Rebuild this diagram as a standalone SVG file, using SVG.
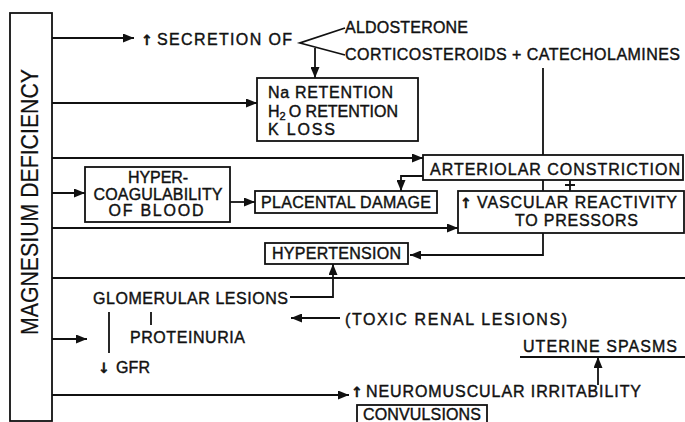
<svg xmlns="http://www.w3.org/2000/svg" width="685" height="422" viewBox="0 0 685 422">
<style>
text{font-family:"Liberation Sans","Arial",sans-serif;font-size:16px;fill:#111;stroke:#111;stroke-width:0.4}
.c{stroke:#111;stroke-width:1.8;fill:none}
.b{fill:#fff;stroke:#111;stroke-width:1.8}
.m{text-anchor:middle}
.ar{font-family:"DejaVu Sans",sans-serif;font-size:14px;font-weight:bold}
</style>
<defs>
<marker id="ah" markerUnits="userSpaceOnUse" markerWidth="11" markerHeight="9" refX="11" refY="4.5" orient="auto">
<path d="M0,0 L11,4.5 L0,9 z" fill="#111"/>
</marker>
</defs>
<rect width="685" height="422" fill="#fff"/>
<g id="connectors">
<path class="c" d="M52,38 H134" marker-end="url(#ah)"/>
<path class="c" d="M52,103 H257" marker-end="url(#ah)"/>
<path class="c" d="M52,158 H423" marker-end="url(#ah)"/>
<path class="c" d="M52,193 H85" marker-end="url(#ah)"/>
<path class="c" d="M52,228 H458" marker-end="url(#ah)"/>
<path class="c" d="M52,278 H685"/>
<path class="c" d="M52,339 H87" marker-end="url(#ah)"/>
<path class="c" d="M52,395 H349" marker-end="url(#ah)"/>
<path class="c" d="M345,28 L300,43 L345,55"/>
<path class="c" d="M315,48 V78" marker-end="url(#ah)"/>
<path class="c" d="M543,68 V255 H410" marker-end="url(#ah)"/>
<path class="c" d="M423,176 H401 V191" marker-end="url(#ah)"/>
<path class="c" d="M230,202 H255" marker-end="url(#ah)"/>
<path class="c" d="M290,297 H333 V264" marker-end="url(#ah)"/>
<path class="c" d="M340,318 H291" marker-end="url(#ah)"/>
<path class="c" d="M598,385 V357" marker-end="url(#ah)"/>
<path class="c" d="M520,357 H685"/>
<path class="c" d="M109,312 V353"/>
<path class="c" d="M151,312 V325"/>
<path class="c" d="M570,180 V191 M565,185 H575"/>
</g>
<g id="magnesium-deficiency">
<rect class="b" x="10" y="13" width="42" height="408"/>
<text transform="translate(38,335) rotate(-90)" style="font-size:23px;stroke-width:0.2" textLength="266" lengthAdjust="spacingAndGlyphs">MAGNESIUM DEFICIENCY</text>
</g>
<g id="secretion">
<text class="ar" x="141" y="45">↑</text>
<text x="157" y="45" textLength="135" lengthAdjust="spacing">SECRETION OF</text>
</g>
<g id="aldosterone">
<text x="345" y="33" textLength="123" lengthAdjust="spacing">ALDOSTERONE</text>
</g>
<g id="corticosteroids">
<text x="345" y="60" textLength="335" lengthAdjust="spacing">CORTICOSTEROIDS + CATECHOLAMINES</text>
</g>
<g id="retention">
<rect class="b" x="257" y="78" width="161" height="63"/>
<text x="268" y="98" textLength="125" lengthAdjust="spacing">Na RETENTION</text>
<text x="268" y="117">H<tspan style="font-size:11px" dy="3">2</tspan><tspan dy="-3" dx="3">O RETENTION</tspan></text>
<text x="268" y="135" textLength="67" lengthAdjust="spacing">K LOSS</text>
</g>
<g id="arteriolar">
<rect class="b" x="423" y="155" width="260" height="25"/>
<text x="430" y="175" textLength="250" lengthAdjust="spacing">ARTERIOLAR CONSTRICTION</text>
</g>
<g id="hypercoagulability">
<rect class="b" x="85" y="167" width="145" height="55"/>
<text class="m" x="158" y="183" textLength="60" lengthAdjust="spacing">HYPER-</text>
<text class="m" x="158" y="200" textLength="129" lengthAdjust="spacing">COAGULABILITY</text>
<text class="m" x="156" y="216" textLength="95" lengthAdjust="spacing">OF BLOOD</text>
</g>
<g id="placental">
<rect class="b" x="255" y="191" width="182" height="22"/>
<text x="261" y="208" textLength="170" lengthAdjust="spacing">PLACENTAL DAMAGE</text>
</g>
<g id="vascular">
<rect class="b" x="458" y="191" width="226" height="42"/>
<text class="ar" x="460" y="208">↑</text>
<text x="477" y="208" textLength="200" lengthAdjust="spacing">VASCULAR REACTIVITY</text>
<text x="515" y="226" textLength="123" lengthAdjust="spacing">TO PRESSORS</text>
</g>
<g id="hypertension">
<rect class="b" x="265" y="243" width="143" height="21"/>
<text x="272" y="259" textLength="129" lengthAdjust="spacing">HYPERTENSION</text>
</g>
<g id="glomerular">
<text x="93" y="304" textLength="195" lengthAdjust="spacing">GLOMERULAR LESIONS</text>
</g>
<g id="proteinuria">
<text x="130" y="343" textLength="115" lengthAdjust="spacing">PROTEINURIA</text>
</g>
<g id="gfr">
<text class="ar" x="98" y="373">↓</text>
<text x="116" y="373" textLength="34" lengthAdjust="spacing">GFR</text>
</g>
<g id="toxic">
<text x="345" y="325" textLength="222" lengthAdjust="spacing">(TOXIC RENAL LESIONS)</text>
</g>
<g id="uterine">
<text x="523" y="352" textLength="154" lengthAdjust="spacing">UTERINE SPASMS</text>
</g>
<g id="neuromuscular">
<text class="ar" x="351" y="397">↑</text>
<text x="366" y="397" textLength="275" lengthAdjust="spacing">NEUROMUSCULAR IRRITABILITY</text>
</g>
<g id="convulsions">
<rect class="b" x="357" y="405" width="130" height="22"/>
<text x="363" y="420" textLength="118" lengthAdjust="spacing">CONVULSIONS</text>
</g>
</svg>
